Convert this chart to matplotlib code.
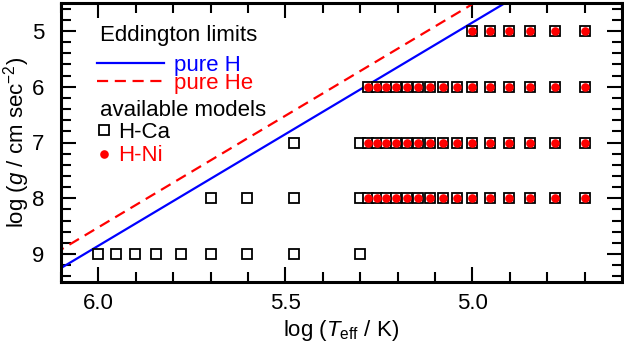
import numpy as np
import matplotlib
matplotlib.use('Agg')
import matplotlib.pyplot as plt
from matplotlib.lines import Line2D
from matplotlib.ticker import MultipleLocator, FormatStrFormatter

plt.rcParams['font.family'] = ['Liberation Sans', 'DejaVu Sans']
plt.rcParams['mathtext.fontset'] = 'custom'
plt.rcParams['mathtext.rm'] = 'Liberation Sans'
plt.rcParams['mathtext.it'] = 'Liberation Sans:italic'
plt.rcParams['font.size'] = 16

# model grid, Teff in kK, one list per log g row
cool_teff = [190, 180, 170, 160, 150, 140, 130, 120, 110, 100, 90, 80, 70, 60, 50]
hca_g9 = [1000, 900, 800, 700, 600, 500, 400, 300, 200]
hca_g8 = [500, 400, 300, 200] + cool_teff
hca_g7 = [300, 200] + cool_teff
hca_g6 = cool_teff
hca_g5 = [100, 90, 80, 70, 60, 50]

hni_g8 = cool_teff
hni_g7 = cool_teff
hni_g6 = cool_teff
hni_g5 = [100, 90, 80, 70, 60, 50]

# Eddington limits (log Teff, log g)
edd_logt = [6.2, 4.8]
edd_h = [9.65, 4.05]
edd_he = [9.32, 3.72]

def grid(rows):
    lt, lg = [], []
    for g, teffs in rows:
        lt += list(np.log10(np.array(teffs) * 1000.0))
        lg += [g] * len(teffs)
    return np.array(lt), np.array(lg)

hca_t, hca_g = grid([(9, hca_g9), (8, hca_g8), (7, hca_g7), (6, hca_g6), (5, hca_g5)])
hni_t, hni_g = grid([(8, hni_g8), (7, hni_g7), (6, hni_g6), (5, hni_g5)])

fig = plt.figure(figsize=(6.24, 3.42), dpi=100)
ax = fig.add_axes([61/624, 1 - 282/342, 561/624, 279/342])

ax.plot(edd_logt, edd_h, color='#0000ff', lw=1.6, zorder=2)
ax.plot(edd_logt, edd_he, color='#ff0000', lw=1.6, ls=(0, (5, 3)), zorder=2)
ax.plot(hca_t, hca_g, ls='none', marker='s', ms=7.6, mfc='white', mec='black', mew=1.3, zorder=3)
ax.plot(hni_t, hni_g, ls='none', marker='o', ms=6.2, mfc='#ff0000', mec='#ff0000', mew=0, zorder=4)

ax.set_xlim(6.1, 4.6)
ax.set_ylim(9.5, 4.5)
ax.xaxis.set_major_locator(MultipleLocator(0.5))
ax.xaxis.set_minor_locator(MultipleLocator(0.1))
ax.yaxis.set_major_locator(MultipleLocator(1))
ax.yaxis.set_minor_locator(MultipleLocator(0.2))
ax.xaxis.set_major_formatter(FormatStrFormatter('%.1f'))
ax.yaxis.set_major_formatter(FormatStrFormatter('%d'))
ax.tick_params(which='both', direction='in', top=True, right=True, width=1.5)
ax.tick_params(which='major', length=11)
ax.tick_params(which='minor', length=7)
ax.tick_params(axis='x', which='major', pad=8)
ax.tick_params(axis='y', which='major', pad=12)
for s in ax.spines.values():
    s.set_linewidth(2.2)

ax.set_xlabel(r'log ($T_{\rm eff}$ / K)', labelpad=3)
ax.set_ylabel(r'log ($g$ / cm sec$^{-2}$)', labelpad=0)

ax.text(0.0695, 0.882, 'Eddington limits', transform=ax.transAxes, va='center', ha='left')
h1 = [Line2D([], [], color='#0000ff', lw=1.6),
      Line2D([], [], color='#ff0000', lw=1.6, ls=(0, (5, 3)))]
leg1 = ax.legend(h1, ['pure H', 'pure He'], loc='upper left',
                 bbox_to_anchor=(0.064, 0.814), frameon=False, borderpad=0,
                 handlelength=3.0, handletextpad=0.45, labelspacing=-0.12,
                 labelcolor=['#0000ff', '#ff0000'], borderaxespad=0)
ax.add_artist(leg1)

ax.text(0.0695, 0.616, 'available models', transform=ax.transAxes, va='center', ha='left')
h2 = [Line2D([], [], ls='none', marker='s', ms=7.6, mfc='white', mec='black', mew=1.3),
      Line2D([], [], ls='none', marker='o', ms=6.2, mfc='#ff0000', mec='#ff0000', mew=0)]
leg2 = ax.legend(h2, ['H-Ca', 'H-Ni'], loc='upper left',
                 bbox_to_anchor=(0.064, 0.573), frameon=False, borderpad=0,
                 handlelength=0.65, handletextpad=0.3, labelspacing=0.1,
                 labelcolor=['black', '#ff0000'], borderaxespad=0)

fig.savefig('out.png', dpi=100)
